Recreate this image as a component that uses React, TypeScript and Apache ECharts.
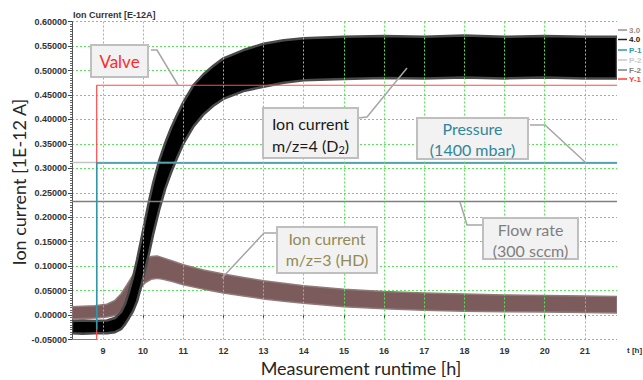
import React, { useEffect, useRef } from "react";
import * as echarts from "echarts";

// ---- axis ticks ----
const xTickValues = [9, 10, 11, 12, 13, 14, 15, 16, 17, 18, 19, 20, 21];
const xRange = [8.23, 21.8];
const yRange = [-0.05, 0.6];

// ---- Ion current m/z=4 (D2): noise band envelope ----
const d2Time = [8.23, 8.5, 8.8, 9.1, 9.3, 9.45, 9.55, 9.65, 9.75, 9.85, 9.95, 10.05, 10.15, 10.25, 10.4, 10.55, 10.7, 10.85, 11.0, 11.25, 11.5, 11.75, 12.0, 12.5, 13.0, 13.5, 14.0, 15.0, 16.0, 17.0, 18.0, 19.0, 20.0, 21.0, 21.8];
const d2Low = [-0.037, -0.038, -0.037, -0.037, -0.035, -0.029, -0.019, -0.006, 0.008, 0.028, 0.058, 0.092, 0.127, 0.165, 0.215, 0.258, 0.292, 0.322, 0.35, 0.385, 0.41, 0.428, 0.442, 0.458, 0.467, 0.475, 0.48, 0.483, 0.485, 0.484, 0.486, 0.484, 0.486, 0.484, 0.484];
const d2High = [-0.012, -0.011, -0.012, -0.011, -0.006, 0.006, 0.022, 0.048, 0.078, 0.113, 0.153, 0.194, 0.234, 0.27, 0.316, 0.352, 0.383, 0.41, 0.435, 0.47, 0.492, 0.51, 0.525, 0.542, 0.555, 0.562, 0.566, 0.569, 0.571, 0.569, 0.572, 0.569, 0.571, 0.569, 0.569];

// ---- Ion current m/z=3 (HD): noise band envelope ----
const hdTime = [8.23, 8.5, 8.8, 9.1, 9.3, 9.45, 9.6, 9.75, 9.9, 10.05, 10.2, 10.35, 10.5, 10.75, 11.0, 11.5, 12.0, 12.5, 13.0, 13.5, 14.0, 15.0, 16.0, 17.0, 18.0, 19.0, 20.0, 21.0, 21.8];
const hdLow = [-0.008, -0.007, -0.006, -0.004, -0.001, 0.007, 0.018, 0.035, 0.052, 0.066, 0.073, 0.075, 0.073, 0.068, 0.062, 0.053, 0.045, 0.039, 0.033, 0.028, 0.024, 0.017, 0.013, 0.01, 0.008, 0.007, 0.006, 0.005, 0.004];
const hdHigh = [0.017, 0.018, 0.019, 0.022, 0.03, 0.043, 0.062, 0.082, 0.1, 0.113, 0.12, 0.121, 0.117, 0.11, 0.103, 0.092, 0.084, 0.077, 0.07, 0.065, 0.06, 0.053, 0.048, 0.045, 0.043, 0.041, 0.04, 0.039, 0.038];

// ---- Valve (Y-1) ----
const valveTime = [8.23, 8.845, 8.845, 21.8];
const valveValue = [-0.05, -0.05, 0.47, 0.47];

// ---- Pressure (P-1) ----
const pressureTime = [8.845, 8.845, 21.8];
const pressureValue = [-0.03, 0.311, 0.311];

// ---- P-2 ----
const p2Time = [8.23, 21.8];
const p2Value = [0.312, 0.312];

// ---- Flow rate (F-2) ----
const flowTime = [8.23, 21.8];
const flowValue = [0.232, 0.232];

// ---- legend ----
const legendNames = ["3.0", "4.0", "P-1", "P-2", "F-2", "Y-1"];
const legendColors = ["#a08a8a", "#222222", "#2f97a6", "#c8c8c8", "#808080", "#ff3b3b"];

const GRID_GREEN = "#55e655";

function pairs(t: number[], v: number[]) {
  return t.map((x, i) => [x, v[i]]);
}

function bandSeries(name: string, t: number[], lo: number[], hi: number[], fill: string, edge: string, edgeWidth: number) {
  return {
    name,
    type: "custom",
    data: [[t[0], lo[0]]],
    clip: true,
    renderItem: (params: any, api: any) => {
      const pts: number[][] = [];
      for (let i = 0; i < t.length; i++) pts.push(api.coord([t[i], hi[i]]));
      for (let i = t.length - 1; i >= 0; i--) pts.push(api.coord([t[i], lo[i]]));
      return {
        type: "polygon",
        shape: { points: pts },
        style: { fill, stroke: edge, lineWidth: edgeWidth, lineJoin: "round" },
      };
    },
  };
}

function calloutBox(x: number, y: number, w: number, h: number) {
  return {
    type: "rect",
    shape: { x, y, width: w, height: h },
    style: { fill: "#f2f2f2", stroke: "#bfbfbf", lineWidth: 2 },
    z: 100,
  };
}
function leader(points: number[][]) {
  return {
    type: "polyline",
    shape: { points },
    style: { stroke: "#a6a6a6", lineWidth: 1.5, fill: "none" },
    z: 100,
  };
}
function label(text: string, x: number, y: number, color: string, size = 16, rich?: any) {
  return {
    type: "text",
    x,
    y,
    z: 101,
    style: {
      text,
      fill: color,
      fontSize: size,
      fontFamily: "Lato",
      textAlign: "center",
      textVerticalAlign: "middle",
      rich,
    },
  };
}

export default function App() {
  const ref = useRef<HTMLDivElement>(null);
  useEffect(() => {
    if (!ref.current) return;
    const chart = echarts.init(ref.current, null, { renderer: "svg" });
    const axisFont = { fontFamily: "Liberation Sans", fontWeight: "bold" as const, fontSize: 9, color: "#333" };

    const legendGraphics: any[] = [];
    const legendY = [30, 39.5, 50, 60, 70, 79];
    legendNames.forEach((n, i) => {
      legendGraphics.push({
        type: "line",
        shape: { x1: 618, y1: legendY[i], x2: 627, y2: legendY[i] },
        style: { stroke: legendColors[i], lineWidth: 1.5 },
      });
      legendGraphics.push({
        type: "text",
        x: 629,
        y: legendY[i],
        style: {
          text: n,
          fill: legendColors[i],
          fontSize: 8,
          fontWeight: "bold",
          fontFamily: "Liberation Sans",
          textVerticalAlign: "middle",
        },
      });
    });

    const option: any = {
      animation: false,
      backgroundColor: "#ffffff",
      grid: { left: 72, right: 26, top: 21.7, bottom: 40.5, containLabel: false },
      xAxis: {
        type: "value",
        min: xRange[0],
        max: xRange[1],
        axisLine: { show: false },
        axisTick: { show: true, customValues: xTickValues, length: 4, lineStyle: { color: "#333" } },
        axisLabel: { customValues: xTickValues, margin: 7, ...axisFont },
        splitLine: { show: false },
      },
      yAxis: {
        type: "value",
        min: yRange[0],
        max: yRange[1],
        interval: 0.05,
        axisLine: { show: true, lineStyle: { color: "#555", width: 1 } },
        axisTick: { show: true, length: 4, lineStyle: { color: "#444" } },
        minorTick: { show: true, splitNumber: 10, length: 2, lineStyle: { color: "#666" } },
        axisLabel: { margin: 5, formatter: (v: number) => v.toFixed(5), ...axisFont },
        splitLine: { show: true, lineStyle: { color: GRID_GREEN, type: [2, 2], width: 1 } },
      },
      series: [
        {
          type: "line",
          data: [],
          z: 1,
          silent: true,
          markLine: {
            silent: true,
            symbol: ["none", "none"],
            label: { show: false },
            lineStyle: { color: GRID_GREEN, type: [2, 2], width: 1 },
            data: xTickValues.map((v) => ({ xAxis: v })),
          },
        },
        {
          name: "P-2",
          type: "line",
          data: pairs(p2Time, p2Value),
          symbol: "none",
          lineStyle: { color: "#c4c4c4", width: 1.5 },
        },
        {
          name: "F-2",
          type: "line",
          data: pairs(flowTime, flowValue),
          symbol: "none",
          lineStyle: { color: "#7f7f7f", width: 1.5 },
        },
        bandSeries("3.0", hdTime, hdLow, hdHigh, "#7b5b5b", "#927a7a", 1.5),
        bandSeries("4.0", d2Time, d2Low, d2High, "#000000", "#4a4a4a", 2.5),
        {
          name: "Y-1",
          type: "line",
          data: pairs(valveTime, valveValue),
          symbol: "none",
          lineStyle: { color: "#ff4a4a", width: 1.2 },
        },
        {
          name: "P-1",
          type: "line",
          data: pairs(pressureTime, pressureValue),
          symbol: "none",
          lineStyle: { color: "#2f97a6", width: 1.5 },
        },
      ],
      graphic: [
        {
          type: "text",
          x: 73,
          y: 15,
          style: {
            text: "Ion Current [E-12A]",
            fill: "#333",
            fontSize: 9,
            fontWeight: "bold",
            fontFamily: "Liberation Sans",
            textVerticalAlign: "middle",
          },
        },
        {
          type: "text",
          x: 627,
          y: 350,
          style: {
            text: "t [h]",
            fill: "#333",
            fontSize: 8,
            fontWeight: "bold",
            fontFamily: "Liberation Sans",
            textVerticalAlign: "middle",
          },
        },
        {
          type: "text",
          x: 361,
          y: 368,
          style: {
            text: "Measurement runtime [h]",
            fill: "#262626",
            fontSize: 18,
            fontFamily: "Lato",
            textAlign: "center",
            textVerticalAlign: "middle",
          },
        },
        {
          type: "text",
          x: 19,
          y: 182,
          rotation: Math.PI / 2,
          style: {
            text: "Ion current [1E-12 A]",
            fill: "#262626",
            fontSize: 18,
            fontFamily: "Lato",
            textAlign: "center",
            textVerticalAlign: "middle",
          },
        },
        ...legendGraphics,
        // Valve callout
        leader([[151, 50], [157, 50], [178, 85]]),
        calloutBox(91, 45, 57, 32),
        label("Valve", 119.5, 61.5, "#ff2a2a", 17),
        // D2 callout
        leader([[358, 118], [367, 117], [407, 68]]),
        calloutBox(263, 108, 95, 50),
        label("Ion current", 310.5, 123, "#1a1a1a", 16),
        label("{n|m/z=4 (D}{s|2}{n|)}", 310.5, 145, "#1a1a1a", 16, {
          n: { fontSize: 16, fontFamily: "Lato", color: "#1a1a1a" },
          s: { fontSize: 11, fontFamily: "Lato", color: "#1a1a1a", padding: [8, 0, 0, 0] },
        }),
        // Pressure callout
        leader([[530, 125], [545, 125], [585, 162]]),
        calloutBox(417, 118, 111, 41),
        label("Pressure", 472.5, 128.5, "#31859c", 16),
        label("(1400 mbar)", 472.5, 149.5, "#31859c", 16),
        // HD callout
        leader([[277, 233], [264, 233], [222, 278]]),
        calloutBox(277, 227, 100, 46),
        label("Ion current", 327, 238, "#948a54", 16),
        label("m/z=3 (HD)", 327, 259, "#948a54", 16),
        // Flow callout
        leader([[460, 202], [467, 225], [483, 225]]),
        calloutBox(483, 218, 95, 41),
        label("Flow rate", 530.5, 229.5, "#7f7f7f", 16),
        label("(300 sccm)", 530.5, 250.5, "#7f7f7f", 16),
      ],
    };
    chart.setOption(option);
    return () => chart.dispose();
  }, []);
  return (
    <div
      ref={ref}
      style={{ position: "fixed", left: 0, top: 0, width: 643, height: 380, background: "#fff" }}
    />
  );
}
